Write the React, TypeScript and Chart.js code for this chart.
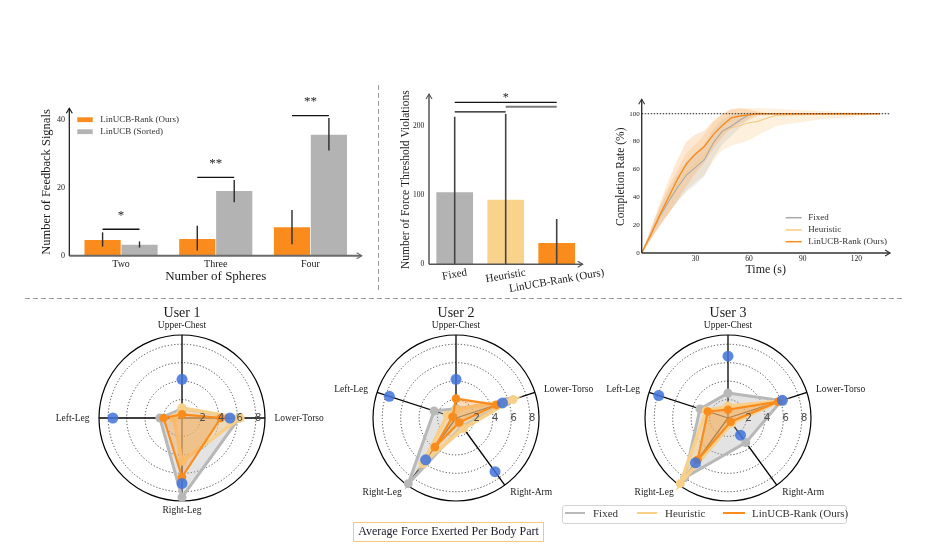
import React, { useEffect, useRef } from 'react';
import { Chart, registerables } from 'chart.js';

Chart.register(...registerables);

// ---------------- data ----------------
// Panel A: feedback signals
const sphereCategories = ['Two', 'Three', 'Four'];
const rankFeedbackMeans = [4.6, 4.9, 8.4];
const rankFeedbackLow = [2.7, 1.5, 3.4];
const rankFeedbackHigh = [6.9, 8.8, 13.5];
const sortedFeedbackMeans = [3.2, 19.1, 35.7];
const sortedFeedbackLow = [2.4, 15.8, 31.0];
const sortedFeedbackHigh = [4.2, 22.3, 40.6];
const feedbackSigLevels = [7.8, 23.1, 41.3];
const feedbackSigMarks = ['*', '**', '**'];
const feedbackTicks = [0, 20, 40];

// Panel B: force threshold violations
const methodLabels = ['Fixed', 'Heuristic', 'LinUCB-Rank (Ours)'];
const violationMeans = [103.8, 93.3, 30.8];
const violationLow = [0, 0, 0];
const violationHigh = [213, 217, 65.4];
const violationPairs = [[0, 1], [1, 2], [0, 2]];
const violationPairLevels = [220, 227.4, 233.6];
const violationSigMark = '*';
const violationSigLevel = 244;
const violationTicks = [0, 100, 200];

// Panel C: completion rate over time
const timePoints = [0, 5, 10, 15, 20, 25, 30, 35, 40, 45, 50, 55, 60, 65, 70, 75, 80, 90, 100, 110, 120, 133];
const rankCompletion = [0, 13, 27, 40, 53, 64, 71, 76.5, 85, 91.5, 97, 98.4, 99.2, 100, 100, 100, 100, 100, 100, 100, 100, 100];
const rankCompletionHigh = [0, 17, 35, 52, 67, 80, 85, 88, 95, 100, 103, 104, 103, 101.5, 100.5, 100, 100, 100, 100, 100, 100, 100];
const rankCompletionLow = [0, 9, 19, 28, 38, 48, 57, 65, 75, 83, 90, 93, 95.5, 98.5, 99.5, 100, 100, 100, 100, 100, 100, 100];
const fixedCompletion = [0, 13, 26, 37, 47, 56, 61.5, 67, 79, 87.5, 91, 95.5, 99.3, 100, 100, 100, 100, 100, 100, 100, 100, 100];
const fixedCompletionHigh = [0, 16, 32, 45, 57, 66, 72, 78, 89, 96, 99, 100.5, 101, 100.5, 100, 100, 100, 100, 100, 100, 100, 100];
const fixedCompletionLow = [0, 10, 20, 29, 37, 44, 49, 55, 68, 78, 84, 90, 97, 99.5, 100, 100, 100, 100, 100, 100, 100, 100];
const heuristicCompletion = [0, 13, 26.5, 38, 48.5, 58, 64, 69.5, 79.5, 87, 90, 91.5, 93.5, 94.5, 97, 98.8, 99.2, 99.3, 99.4, 99.6, 99.8, 100];
const heuristicCompletionHigh = [0, 17, 34, 48, 60, 72, 78, 85, 94, 100, 103.5, 104, 104, 104, 103.8, 103.5, 103, 102.5, 102, 101.5, 101, 100];
const heuristicCompletionLow = [0, 10, 20, 28, 37, 45, 51, 56, 66, 74, 77, 79, 81, 84.5, 88, 91, 92.5, 94, 96, 97, 98, 99.8];
const completionTarget = 100;
const completionTicks = [0, 20, 40, 60, 80, 100];
const timeTicks = [30, 60, 90, 120];

// Panel D: average force per body part
const user1Parts = ['Upper-Chest', 'Lower-Torso', 'Right-Leg', 'Left-Leg'];
const user1Threshold = [4.2, 5.2, 7.1, 7.5];
const user1Fixed = [1.0, 6.2, 8.6, 2.4];
const user1Heuristic = [1.1, 6.3, 4.7, 0.9];
const user1Rank = [0.4, 4.2, 6.4, 2.0];

const user2Parts = ['Upper-Chest', 'Lower-Torso', 'Right-Arm', 'Right-Leg', 'Left-Leg'];
const user2Threshold = [4.2, 5.3, 7.2, 5.6, 7.6];
const user2Fixed = [1.0, 5.8, 1.1, 8.8, 2.5];
const user2Heuristic = [0.9, 6.5, 1.4, 6.1, 1.0];
const user2Rank = [2.1, 4.6, 0.6, 3.9, 0.4];

const user3Parts = ['Upper-Chest', 'Lower-Torso', 'Right-Arm', 'Right-Leg', 'Left-Leg'];
const user3Threshold = [6.7, 6.2, 2.3, 6.0, 7.9];
const user3Fixed = [2.7, 6.1, 3.3, 8.0, 3.2];
const user3Heuristic = [1.3, 5.9, 0.7, 8.8, 2.5];
const user3Rank = [0.9, 5.7, 0.5, 5.6, 2.3];

const radialGridTicks = [0, 2, 4, 6, 8];
const radialMax = 9;

// ---------------- styles ----------------
const SERIF = '"Liberation Serif", "Times New Roman", serif';
const SANS = '"DejaVu Sans", sans-serif';
const ORANGE = '#FA8C1E';
const GRAY = '#B3B3B3';
const LIGHT = '#F9D28C';
const INK = '#1a1a1a';
const NO_GRID = { display: false, drawTicks: false };

// ---------------- helpers ----------------
function seg(ctx: any, x1: number, y1: number, x2: number, y2: number) {
  ctx.beginPath();
  ctx.moveTo(x1, y1);
  ctx.lineTo(x2, y2);
  ctx.stroke();
}

function arrow(ctx: any, x1: number, y1: number, x2: number, y2: number, color: string, width: number) {
  ctx.save();
  ctx.strokeStyle = color;
  ctx.lineWidth = width;
  seg(ctx, x1, y1, x2, y2);
  const a = Math.atan2(y2 - y1, x2 - x1);
  const L = 5, W = 3;
  ctx.lineWidth = 1.1;
  ctx.beginPath();
  ctx.moveTo(x2 - L * Math.cos(a) + W * Math.sin(a), y2 - L * Math.sin(a) - W * Math.cos(a));
  ctx.lineTo(x2, y2);
  ctx.lineTo(x2 - L * Math.cos(a) - W * Math.sin(a), y2 - L * Math.sin(a) + W * Math.cos(a));
  ctx.stroke();
  ctx.restore();
}

function vText(ctx: any, text: string, x: number, y: number, font: string) {
  ctx.save();
  ctx.translate(x, y);
  ctx.rotate(-Math.PI / 2);
  ctx.font = font;
  ctx.fillStyle = INK;
  ctx.textAlign = 'center';
  ctx.textBaseline = 'middle';
  ctx.fillText(text, 0, 0);
  ctx.restore();
}

function hText(ctx: any, text: string, x: number, y: number, font: string, align = 'center', color = INK) {
  ctx.save();
  ctx.font = font;
  ctx.fillStyle = color;
  ctx.textAlign = align;
  ctx.textBaseline = 'middle';
  ctx.fillText(text, x, y);
  ctx.restore();
}

function glyphCentered(ctx: any, text: string, x: number, cy: number, font: string) {
  ctx.save();
  ctx.font = font;
  ctx.fillStyle = INK;
  ctx.textAlign = 'center';
  ctx.textBaseline = 'alphabetic';
  const m = ctx.measureText(text);
  ctx.fillText(text, x, cy + (m.actualBoundingBoxAscent - m.actualBoundingBoxDescent) / 2);
  ctx.restore();
}

const fixY = (w: number) => (s: any) => { s.width = w; s.paddingTop = 0; s.paddingBottom = 0; };
const fixX = (h: number) => (s: any) => { s.height = h; s.paddingLeft = 0; s.paddingRight = 0; };
const setTicks = (vals: number[]) => (s: any) => { s.ticks = vals.map((v) => ({ value: v })); };

// ---------------- Panel A ----------------
const feedbackPlugin = {
  id: 'feedbackDecor',
  afterDatasetsDraw(chart: any) {
    const { ctx, chartArea, scales } = chart;
    const y = scales.y;
    const m0 = chart.getDatasetMeta(0);
    const m1 = chart.getDatasetMeta(1);
    ctx.save();
    ctx.strokeStyle = '#2a2a2a';
    ctx.lineWidth = 1.4;
    const groups: any[] = [[m0, rankFeedbackLow, rankFeedbackHigh], [m1, sortedFeedbackLow, sortedFeedbackHigh]];
    groups.forEach(([m, lo, hi]) => {
      m.data.forEach((el: any, j: number) => seg(ctx, el.x, y.getPixelForValue(lo[j]), el.x, y.getPixelForValue(hi[j])));
    });
    ctx.strokeStyle = '#111';
    ctx.lineWidth = 1.3;
    feedbackSigLevels.forEach((lv, j) => {
      const py = y.getPixelForValue(lv);
      const xa = m0.data[j].x, xb = m1.data[j].x;
      seg(ctx, xa, py, xb, py);
      glyphCentered(ctx, feedbackSigMarks[j], (xa + xb) / 2, py - 16, `13px ${SERIF}`);
    });
    const ax = chartArea.left - 4.4;
    const zy = y.getPixelForValue(0);
    arrow(ctx, ax, zy, chartArea.right + 3.9, zy, '#6a6a6a', 2);
    arrow(ctx, ax, zy, ax, y.getPixelForValue(43.5), '#111', 1.2);
    // legend
    const lx = chartArea.left + 3.6;
    ctx.fillStyle = ORANGE;
    ctx.fillRect(lx, 32.3, 15.4, 4.8);
    ctx.fillStyle = GRAY;
    ctx.fillRect(lx, 44.3, 15.4, 4.8);
    hText(ctx, 'LinUCB-Rank (Ours)', lx + 23, 34.6, `9px ${SERIF}`, 'left', '#333');
    hText(ctx, 'LinUCB (Sorted)', lx + 23, 46.7, `9px ${SERIF}`, 'left', '#333');
    // titles
    vText(ctx, 'Number of Feedback Signals', 22, y.getPixelForValue(21.75), `12.5px ${SERIF}`);
    hText(ctx, 'Number of Spheres', (chartArea.left + chartArea.right) / 2, 191.7, `13px ${SERIF}`);
    ctx.restore();
  },
};

function buildFeedback(): any {
  return {
    type: 'bar',
    data: {
      labels: sphereCategories,
      datasets: [
        { label: 'LinUCB-Rank (Ours)', data: rankFeedbackMeans, backgroundColor: ORANGE, borderWidth: 0, categoryPercentage: 0.78, barPercentage: 0.98 },
        { label: 'LinUCB (Sorted)', data: sortedFeedbackMeans, backgroundColor: GRAY, borderWidth: 0, categoryPercentage: 0.78, barPercentage: 0.98 },
      ],
    },
    options: {
      responsive: false,
      animation: false,
      layout: { padding: { top: 8, right: 12.2, left: 0, bottom: 0 } },
      plugins: { legend: { display: false }, tooltip: { enabled: false } },
      scales: {
        x: {
          grid: NO_GRID,
          border: { display: false },
          ticks: { font: { family: SERIF, size: 10 }, color: INK, padding: 3 },
          afterFit: fixX(34.3),
        },
        y: {
          min: 0,
          max: 48,
          grid: NO_GRID,
          border: { display: false },
          afterBuildTicks: setTicks(feedbackTicks),
          ticks: { font: { family: SERIF, size: 8 }, color: INK, padding: 8.7 },
          afterFit: fixY(48.7),
        },
      },
    },
    plugins: [feedbackPlugin],
  };
}

// ---------------- Panel B ----------------
const violationPlugin = {
  id: 'violationDecor',
  afterDatasetsDraw(chart: any) {
    const { ctx, chartArea, scales } = chart;
    const y = scales.y;
    const x = scales.x;
    const m = chart.getDatasetMeta(0);
    ctx.save();
    ctx.strokeStyle = '#444';
    ctx.lineWidth = 1.6;
    m.data.forEach((el: any, j: number) => seg(ctx, el.x, y.getPixelForValue(violationLow[j]), el.x, y.getPixelForValue(violationHigh[j])));
    const pairColors = ['#111', '#7a7a7a', '#111'];
    const pairWidths = [1.2, 2, 1.2];
    violationPairs.forEach(([a, b], k) => {
      const py = y.getPixelForValue(violationPairLevels[k]);
      ctx.strokeStyle = pairColors[k];
      ctx.lineWidth = pairWidths[k];
      seg(ctx, m.data[a].x, py, m.data[b].x, py);
    });
    glyphCentered(ctx, violationSigMark, (m.data[0].x + m.data[2].x) / 2, y.getPixelForValue(violationSigLevel), `12px ${SERIF}`);
    const zy = y.getPixelForValue(0);
    const ax = chartArea.left - 0.2;
    arrow(ctx, ax, zy, chartArea.right + 0.5, zy, '#555', 1.5);
    arrow(ctx, ax, zy, ax, y.getPixelForValue(245.7), '#555', 1.5);
    // rotated category labels
    const theta = (10 * Math.PI) / 180;
    ctx.font = `11px ${SERIF}`;
    methodLabels.forEach((lab, j) => {
      const tx = x.getPixelForValue(j);
      const w = ctx.measureText(lab).width;
      const cy = chartArea.bottom + 3.7 + (w * Math.sin(theta) + 9 * Math.cos(theta)) / 2;
      ctx.save();
      ctx.translate(tx, cy);
      ctx.rotate(-theta);
      ctx.fillStyle = INK;
      ctx.textAlign = 'center';
      ctx.textBaseline = 'middle';
      ctx.fillText(lab, 0, 0);
      ctx.restore();
    });
    vText(ctx, 'Number of Force Threshold Violations', 23.7, 97.7, `11.5px ${SERIF}`);
    ctx.restore();
  },
};

function buildViolations(): any {
  return {
    type: 'bar',
    data: {
      labels: methodLabels,
      datasets: [
        { label: 'Violations', data: violationMeans, backgroundColor: [GRAY, LIGHT, ORANGE], borderWidth: 0, categoryPercentage: 0.72, barPercentage: 1 },
      ],
    },
    options: {
      responsive: false,
      animation: false,
      layout: { padding: { top: 5.6, right: 39.8, left: 0, bottom: 0 } },
      plugins: { legend: { display: false }, tooltip: { enabled: false } },
      scales: {
        x: {
          grid: NO_GRID,
          border: { display: false },
          ticks: { display: false },
          afterFit: fixX(32.7),
        },
        y: {
          min: 0,
          max: 255,
          grid: NO_GRID,
          border: { display: false },
          afterBuildTicks: setTicks(violationTicks),
          ticks: { font: { family: SERIF, size: 7.5 }, color: INK, padding: 4.9 },
          afterFit: fixY(47.2),
        },
      },
    },
    plugins: [violationPlugin],
  };
}

// ---------------- Panel C ----------------
const completionPlugin = {
  id: 'completionDecor',
  afterDraw(chart: any) {
    const { ctx, chartArea, scales } = chart;
    const x = scales.x;
    const y = scales.y;
    ctx.save();
    const py = y.getPixelForValue(completionTarget);
    ctx.strokeStyle = '#222';
    ctx.lineWidth = 1;
    ctx.setLineDash([1.5, 1.5]);
    seg(ctx, x.getPixelForValue(0), py, chartArea.right, py);
    ctx.setLineDash([]);
    const zx = x.getPixelForValue(0);
    const zy = y.getPixelForValue(0);
    arrow(ctx, zx, zy, chartArea.right + 0.5, zy, '#333', 1.4);
    arrow(ctx, zx, zy, zx, chartArea.top - 0.5, '#333', 1.4);
    // legend
    const items: any[] = [['Fixed', '#A9A9A9'], ['Heuristic', '#F8CB80'], ['LinUCB-Rank (Ours)', ORANGE]];
    const ys = [129.7, 142, 153.7];
    items.forEach(([lab, col], i) => {
      ctx.strokeStyle = col;
      ctx.lineWidth = 1.5;
      seg(ctx, 185.7, ys[i], 201.7, ys[i]);
      hText(ctx, lab, 208.3, ys[i], `9px ${SERIF}`, 'left', '#333');
    });
    vText(ctx, 'Completion Rate (%)', 20.7, 88.7, `11.5px ${SERIF}`);
    hText(ctx, 'Time (s)', 165.7, 182, `12px ${SERIF}`);
    ctx.restore();
  },
};

function buildCompletion(): any {
  const pts = (arr: number[]) => timePoints.map((t, i) => ({ x: t, y: arr[i] }));
  const lineDs = (label: string, arr: number[], color: string, w: number) => ({
    label, data: pts(arr), borderColor: color, borderWidth: w, pointRadius: 0, fill: false, tension: 0,
  });
  const edge = (arr: number[]) => ({
    label: '', data: pts(arr), borderWidth: 0, borderColor: 'rgba(0,0,0,0)', pointRadius: 0, fill: false,
  });
  const band = (arr: number[], color: string) => ({
    label: '', data: pts(arr), borderWidth: 0, borderColor: 'rgba(0,0,0,0)', pointRadius: 0, fill: '-1', backgroundColor: color,
  });
  return {
    type: 'line',
    data: {
      datasets: [
        lineDs('LinUCB-Rank (Ours)', rankCompletion, ORANGE, 1.4),
        lineDs('Fixed', fixedCompletion, '#A9A9A9', 1.1),
        lineDs('Heuristic', heuristicCompletion, '#F8CB80', 1.1),
        edge(rankCompletionLow),
        band(rankCompletionHigh, 'rgba(250,150,60,0.22)'),
        edge(fixedCompletionLow),
        band(fixedCompletionHigh, 'rgba(185,185,185,0.25)'),
        edge(heuristicCompletionLow),
        band(heuristicCompletionHigh, 'rgba(249,205,140,0.3)'),
      ],
    },
    options: {
      responsive: false,
      animation: false,
      layout: { padding: { top: 11.8, right: 20.4, left: 0, bottom: 0 } },
      plugins: { legend: { display: false }, tooltip: { enabled: false } },
      scales: {
        x: {
          type: 'linear',
          min: 0,
          max: 138.5,
          grid: NO_GRID,
          border: { display: false },
          afterBuildTicks: setTicks(timeTicks),
          ticks: { font: { family: SERIF, size: 7.5 }, color: INK, padding: 1.5 },
          afterFit: fixX(35),
        },
        y: {
          min: 0,
          max: 110,
          grid: NO_GRID,
          border: { display: false },
          afterBuildTicks: setTicks(completionTicks),
          ticks: { font: { family: SERIF, size: 7 }, color: INK, padding: 2 },
          afterFit: fixY(41.7),
        },
      },
    },
    plugins: [completionPlugin],
  };
}

// ---------------- Panel D ----------------
function buildRadar(title: string, parts: string[], threshold: number[], fixed: number[], heuristic: number[], rank: number[]): any {
  const radarPlugin = {
    id: 'radarDecor',
    afterDraw(chart: any) {
      const { ctx } = chart;
      const s = chart.scales.r;
      ctx.save();
      radialGridTicks.filter((v) => v > 0).forEach((v) => {
        hText(ctx, String(v), s.xCenter + s.getDistanceFromCenterForValue(v) + 2.3, s.yCenter, `10px ${SANS}`, 'center', '#4a4a4a');
      });
      parts.forEach((p, i) => {
        const pos = s.getPointPosition(i, s.drawingArea + 9.5);
        const c = Math.cos(pos.angle);
        const align = c > 0.1 ? 'left' : c < -0.1 ? 'right' : 'center';
        hText(ctx, p, pos.x, pos.y, `9.5px ${SERIF}`, align, INK);
      });
      hText(ctx, title, s.xCenter, s.yCenter - s.drawingArea - 22, `14px ${SERIF}`);
      ctx.restore();
    },
  };
  return {
    type: 'radar',
    data: {
      labels: parts,
      datasets: [
        { label: 'Threshold', data: threshold, showLine: false, borderWidth: 0, borderColor: 'rgba(0,0,0,0)', fill: false, pointRadius: 5.5, pointBackgroundColor: 'rgba(65,115,220,0.85)', pointBorderWidth: 0 },
        { label: 'LinUCB-Rank (Ours)', data: rank, borderColor: ORANGE, borderWidth: 2.2, backgroundColor: 'rgba(250,140,30,0.3)', fill: true, pointRadius: 4.3, pointBackgroundColor: ORANGE, pointBorderWidth: 0 },
        { label: 'Heuristic', data: heuristic, borderColor: '#F9D08A', borderWidth: 3.5, backgroundColor: 'rgba(249,208,138,0.45)', fill: true, pointRadius: 4.5, pointBackgroundColor: '#F9D08A', pointBorderWidth: 0 },
        { label: 'Fixed', data: fixed, borderColor: '#B8B8B8', borderWidth: 3, backgroundColor: 'rgba(175,175,175,0.35)', fill: true, pointRadius: 4.5, pointBackgroundColor: '#B8B8B8', pointBorderWidth: 0 },
      ],
    },
    options: {
      responsive: false,
      animation: false,
      layout: { padding: { left: 66.7, right: 66.7, top: 35, bottom: 20.4 } },
      plugins: { legend: { display: false }, tooltip: { enabled: false } },
      elements: { line: { tension: 0 } },
      scales: {
        r: {
          min: 0,
          max: radialMax,
          afterBuildTicks: (sc: any) => { sc.ticks = [...radialGridTicks, radialMax].map((v) => ({ value: v })); },
          ticks: { display: false },
          pointLabels: { display: false },
          grid: {
            circular: true,
            color: (c: any) => (c.tick && c.tick.value === radialMax ? '#000' : '#333'),
            lineWidth: (c: any) => (c.tick && c.tick.value === radialMax ? 1.2 : 0.9),
          },
          border: { dash: (c: any) => (c.tick && c.tick.value === radialMax ? [] : [1.2, 2]) },
          angleLines: { color: '#000', lineWidth: 1.3 },
        },
      },
    },
    plugins: [radarPlugin],
  };
}

// ---------------- components ----------------
function ChartCanvas({ left, top, width, height, build }: any) {
  const ref = useRef<HTMLCanvasElement | null>(null);
  useEffect(() => {
    if (!ref.current) return;
    const chart = new Chart(ref.current, build());
    return () => chart.destroy();
  }, []);
  return <canvas ref={ref} width={width} height={height} style={{ position: 'absolute', left, top, width, height }} />;
}

export default function App() {
  const legendItems = [
    { label: 'Fixed', color: '#B8B8B8', x: 565, w: 20, tx: 593 },
    { label: 'Heuristic', color: '#F9D08A', x: 637, w: 20, tx: 665 },
    { label: 'LinUCB-Rank (Ours)', color: ORANGE, x: 723, w: 22, tx: 752 },
  ];
  return (
    <div style={{ position: 'absolute', left: 0, top: 0, width: 933, height: 545, background: '#fff', overflow: 'hidden', fontFamily: SERIF, color: INK }}>
      <svg width={933} height={545} style={{ position: 'absolute', left: 0, top: 0 }}>
        <line x1={25} y1={298.5} x2={903} y2={298.5} stroke="#9a9a9a" strokeWidth={1} strokeDasharray="5 3" />
        <line x1={378.5} y1={85} x2={378.5} y2={293} stroke="#9a9a9a" strokeWidth={1} strokeDasharray="5 3" />
      </svg>
      <ChartCanvas left={25} top={85} width={345} height={205} build={buildFeedback} />
      <ChartCanvas left={382} top={82} width={240} height={215} build={buildViolations} />
      <ChartCanvas left={600} top={88} width={310} height={200} build={buildCompletion} />
      <ChartCanvas left={31.7} top={300} width={300} height={222} build={() => buildRadar('User 1', user1Parts, user1Threshold, user1Fixed, user1Heuristic, user1Rank)} />
      <ChartCanvas left={305.7} top={300} width={300} height={222} build={() => buildRadar('User 2', user2Parts, user2Threshold, user2Fixed, user2Heuristic, user2Rank)} />
      <ChartCanvas left={578.3} top={300} width={300} height={222} build={() => buildRadar('User 3', user3Parts, user3Threshold, user3Fixed, user3Heuristic, user3Rank)} />
      <div style={{ position: 'absolute', left: 562, top: 505, width: 285, height: 19, border: '1px solid #d4d4d4', borderRadius: 3, background: 'rgba(255,255,255,0.85)', boxSizing: 'border-box' }} />
      {legendItems.map((it) => (
        <React.Fragment key={it.label}>
          <div style={{ position: 'absolute', left: it.x, top: 512.3, width: it.w, height: 2, background: it.color }} />
          <div style={{ position: 'absolute', left: it.tx, top: 507.3, fontSize: 11, lineHeight: '12px', whiteSpace: 'nowrap', color: '#333' }}>{it.label}</div>
        </React.Fragment>
      ))}
      <div style={{ position: 'absolute', left: 353, top: 521.7, width: 191, height: 20.6, border: '1px solid #F6C978', boxSizing: 'border-box', display: 'flex', alignItems: 'center', justifyContent: 'center', fontSize: 12, color: '#1b1b2f', whiteSpace: 'nowrap' }}>
        Average Force Exerted Per Body Part
      </div>
    </div>
  );
}
